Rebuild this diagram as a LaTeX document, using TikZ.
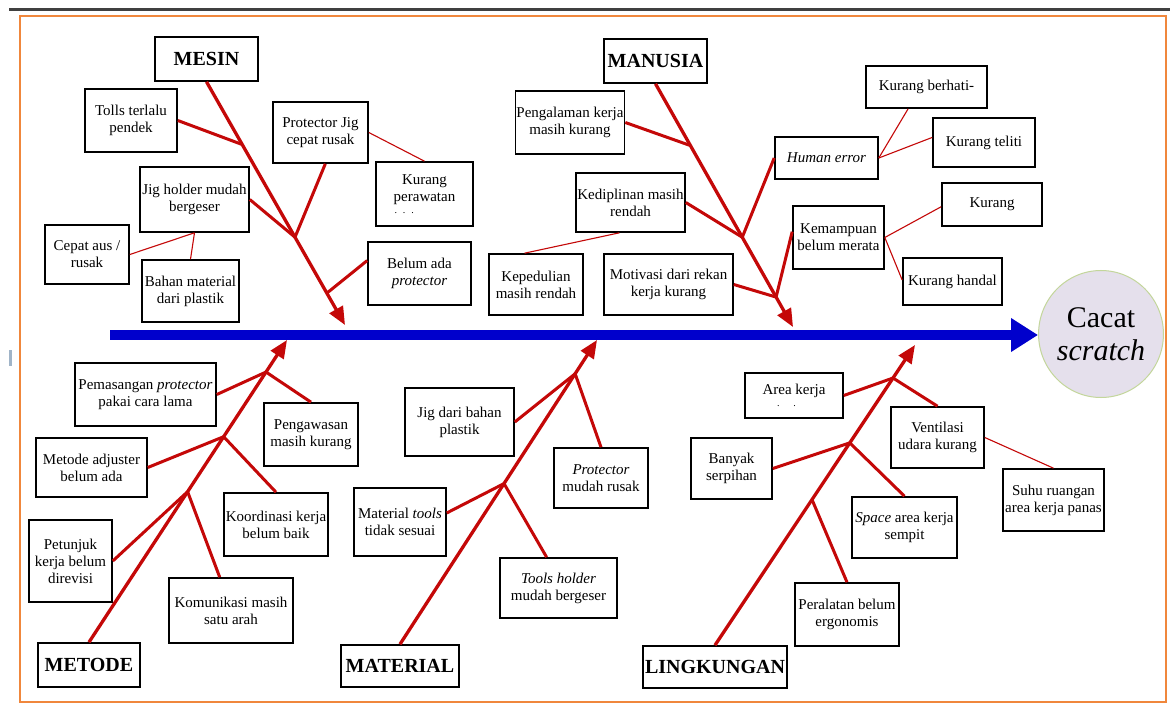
\documentclass[tikz,border=0pt]{standalone}
\usepackage{fontspec}
\setmainfont{Liberation Serif}
\usetikzlibrary{arrows.meta,calc,shapes.geometric}
\definecolor{bonered}{RGB}{196,8,8}
\definecolor{spineblue}{RGB}{0,0,204}
\definecolor{frameorange}{RGB}{240,135,60}
\definecolor{lav}{RGB}{229,224,236}
\definecolor{lgreen}{RGB}{195,214,155}
\definecolor{topgray}{RGB}{64,64,64}
\definecolor{markblue}{RGB}{160,180,200}
\newcommand\mybox[6]{\node[box, minimum width=#4pt, minimum height=#5pt] (#1) at (#2,#3) {#6};}
\newcommand\mytitle[6]{\node[titlebox, minimum width=#4pt, minimum height=#5pt] (#1) at (#2,#3) {#6};}
\begin{document}
\begin{tikzpicture}[x=1pt,y=-1pt,
  box/.style={draw=black, line width=1.6pt, fill=white, inner sep=1pt, align=center, font=\fontsize{15}{17}\selectfont},
  titlebox/.style={box, font=\fontsize{20}{22}\selectfont\bfseries},
  bone/.style={draw=bonered, line width=3.3pt, -{Triangle[length=18pt,width=15pt]}},
  branch/.style={draw=bonered, line width=3pt},
  thinline/.style={draw=bonered, line width=1.1pt},
  spine/.style={draw=spineblue, line width=9pt, -{Triangle[length=27pt,width=32pt]}}]
\useasboundingbox (0,0) rectangle (1170,711);
\fill[white] (0,0) rectangle (1170,711);
\draw[topgray, line width=3pt] (9,10) -- (1170,10);
\draw[frameorange, line width=2.5pt] (20,16) rectangle (1166,702);
\draw[markblue, line width=3pt] (10,350) -- (10,366);

% ---------- boxes ----------
\mytitle{mesin}{206.5}{59}{103}{44}{MESIN}
\mybox{tolls}{131}{120.5}{92}{63}{Tolls terlalu\\pendek}
\mybox{protjig}{320.5}{132.5}{95}{61}{Protector Jig\\cepat rusak}
\mybox{jigholder}{194.5}{199.5}{109}{65}{Jig holder mudah\\bergeser}
\mybox{cepat}{87}{254.5}{84}{59}{Cepat aus /\\rusak}
\mybox{bahan}{190.5}{291}{97}{62}{Bahan material\\dari plastik}
\mybox{kurangper}{424.5}{194}{97}{64}{Kurang\\perawatan\\[-5pt]\makebox[80pt][l]{\hspace{10pt}\fontsize{10}{10}\selectfont .\hspace{6pt}.\hspace{6pt}.}}
\mybox{belum}{419.5}{273.5}{103}{63}{Belum ada\\\textit{protector}}

\mytitle{manusia}{655.5}{61}{103}{44}{MANUSIA}
\mybox{pengalaman}{570}{122.5}{108}{63}{Pengalaman kerja\\masih kurang}
\mybox{kedip}{630.5}{202.5}{109}{59}{Kediplinan masih\\rendah}
\mybox{kepedulian}{536}{284.5}{94}{61}{Kepedulian\\masih rendah}
\mybox{motivasi}{668.5}{284.5}{129}{61}{Motivasi dari rekan\\kerja kurang}
\mybox{berhati}{926.5}{87}{121}{42}{Kurang berhati-}
\mybox{human}{826.5}{158}{103}{42}{\textit{Human error}}
\mybox{teliti}{984}{142.5}{102}{49}{Kurang teliti}
\mybox{kemampuan}{838.5}{237.5}{91}{63}{Kemampuan\\belum merata}
\mybox{kurang}{992}{204.5}{100}{43}{Kurang}
\mybox{handal}{952.5}{281.5}{99}{47}{Kurang handal}

\mytitle{metode}{89}{665}{102}{44}{METODE}
\mybox{pemasangan}{145.5}{394.5}{141}{63}{Pemasangan \textit{protector}\\pakai cara lama}
\mybox{pengawasan}{311}{434.5}{94}{63}{Pengawasan\\masih kurang}
\mybox{adjuster}{91.5}{467.5}{111}{59}{Metode adjuster\\belum ada}
\mybox{koordinasi}{276}{524.5}{104}{63}{Koordinasi kerja\\belum baik}
\mybox{petunjuk}{70.5}{561}{83}{82}{Petunjuk\\kerja belum\\direvisi}
\mybox{komunikasi}{231}{610.5}{124}{65}{Komunikasi masih\\satu arah}

\mytitle{material}{400}{666}{118}{42}{MATERIAL}
\mybox{jigdari}{459.5}{422}{109}{68}{Jig dari bahan\\plastik}
\mybox{protector}{601}{478}{94}{60}{\textit{Protector}\\mudah rusak}
\mybox{mattools}{400}{522}{92}{68}{Material \textit{tools}\\tidak sesuai}
\mybox{toolsholder}{558.5}{588}{117}{60}{\textit{Tools holder}\\mudah bergeser}

\mytitle{lingkungan}{715}{667}{144}{42}{LINGKUNGAN}
\mybox{area}{794}{395.5}{98}{45}{Area kerja\\[-5pt]\makebox[70pt][l]{\hspace{18pt}\fontsize{10}{10}\selectfont .\hspace{14pt}.}}
\mybox{ventilasi}{937.5}{437.5}{93}{61}{Ventilasi\\udara kurang}
\mybox{banyak}{731.5}{468.5}{81}{61}{Banyak\\serpihan}
\mybox{space}{904.5}{527.5}{105}{61}{\textit{Space} area kerja\\sempit}
\mybox{peralatan}{847}{614.5}{104}{63}{Peralatan belum\\ergonomis}
\mybox{suhu}{1053.5}{500}{101}{62}{Suhu ruangan\\area kerja panas}

\node[ellipse, draw=lgreen, line width=1pt, fill=lav, minimum width=110pt, minimum height=127pt, inner sep=0pt, align=center, font=\fontsize{30}{33}\selectfont] (cacat) at (1101,334) {Cacat\\\textit{scratch}};

% ---------- spine ----------
\coordinate (spinestart) at (110,335);
\draw[spine] (spinestart) -- (spinestart -| cacat.west);

% ---------- MESIN ----------
\coordinate (tipMS) at (345,325);
\draw[bone] (mesin.south) -- (tipMS);
\coordinate (jMS1) at ($(mesin.south)!0.258!(tipMS)$);
\coordinate (jMS2) at ($(mesin.south)!0.639!(tipMS)$);
\coordinate (jMS3) at ($(mesin.south)!0.869!(tipMS)$);
\draw[branch] (tolls.east) -- (jMS1);
\draw[branch] (jigholder.east) -- (jMS2);
\draw[branch] ($(protjig.south west)!0.55!(protjig.south east)$) -- (jMS2);
\draw[branch] ($(belum.north west)!0.3!(belum.south west)$) -- (jMS3);
\draw[thinline] (cepat.east) -- (jigholder.south);
\draw[thinline] (bahan.north) -- (jigholder.south);
\draw[thinline] (protjig.east) -- (kurangper.north);

% ---------- MANUSIA ----------
\coordinate (tipMN) at (793,327);
\draw[bone] (manusia.south) -- (tipMN);
\coordinate (jMN1) at ($(manusia.south)!0.254!(tipMN)$);
\coordinate (jMN2) at ($(manusia.south)!0.631!(tipMN)$);
\coordinate (jMN3) at ($(manusia.south)!0.877!(tipMN)$);
\draw[branch] (pengalaman.east) -- (jMN1);
\draw[branch] (kedip.east) -- (jMN2);
\draw[branch] (human.west) -- (jMN2);
\draw[branch] (motivasi.east) -- (jMN3);
\draw[branch] ($(kemampuan.north west)!0.41!(kemampuan.south west)$) -- (jMN3);
\draw[thinline] ($(kedip.south west)!0.4!(kedip.south east)$) -- ($(kepedulian.north west)!0.38!(kepedulian.north east)$);
\draw[thinline] (human.east) -- ($(berhati.south west)!0.35!(berhati.south east)$);
\draw[thinline] (human.east) -- ($(teliti.north west)!0.4!(teliti.south west)$);
\draw[thinline] (kemampuan.east) -- ($(kurang.north west)!0.55!(kurang.south west)$);
\draw[thinline] (kemampuan.east) -- ($(handal.north west)!0.47!(handal.south west)$);

% ---------- METODE ----------
\coordinate (tipMT) at (287,340);
\draw[bone] (metode.north) -- (tipMT);
\coordinate (jMT1) at ($(metode.north)!0.894!(tipMT)$);
\coordinate (jMT2) at ($(metode.north)!0.680!(tipMT)$);
\coordinate (jMT3) at ($(metode.north)!0.498!(tipMT)$);
\draw[branch] (pemasangan.east) -- (jMT1);
\draw[branch] (pengawasan.north) -- (jMT1);
\draw[branch] (adjuster.east) -- (jMT2);
\draw[branch] (koordinasi.north) -- (jMT2);
\draw[branch] (petunjuk.east) -- (jMT3);
\draw[branch] ($(komunikasi.north west)!0.41!(komunikasi.north east)$) -- (jMT3);

% ---------- MATERIAL ----------
\coordinate (tipMA) at (597,340);
\draw[bone] (material.north) -- (tipMA);
\coordinate (jMA1) at ($(material.north)!0.889!(tipMA)$);
\coordinate (jMA2) at ($(material.north)!0.528!(tipMA)$);
\draw[branch] (jigdari.east) -- (jMA1);
\draw[branch] (protector.north) -- (jMA1);
\draw[branch] ($(mattools.north east)!0.37!(mattools.south east)$) -- (jMA2);
\draw[branch] ($(toolsholder.north west)!0.4!(toolsholder.north east)$) -- (jMA2);

% ---------- LINGKUNGAN ----------
\coordinate (tipLK) at (915,345);
\draw[bone] (lingkungan.north) -- (tipLK);
\coordinate (jLK1) at ($(lingkungan.north)!0.890!(tipLK)$);
\coordinate (jLK2) at ($(lingkungan.north)!0.674!(tipLK)$);
\coordinate (jLK3) at ($(lingkungan.north)!0.485!(tipLK)$);
\draw[branch] (area.east) -- (jLK1);
\draw[branch] (ventilasi.north) -- (jLK1);
\draw[branch] (banyak.east) -- (jLK2);
\draw[branch] (space.north) -- (jLK2);
\draw[branch] (peralatan.north) -- (jLK3);
\draw[thinline] (ventilasi.east) -- (suhu.north);
\end{tikzpicture}
\end{document}
